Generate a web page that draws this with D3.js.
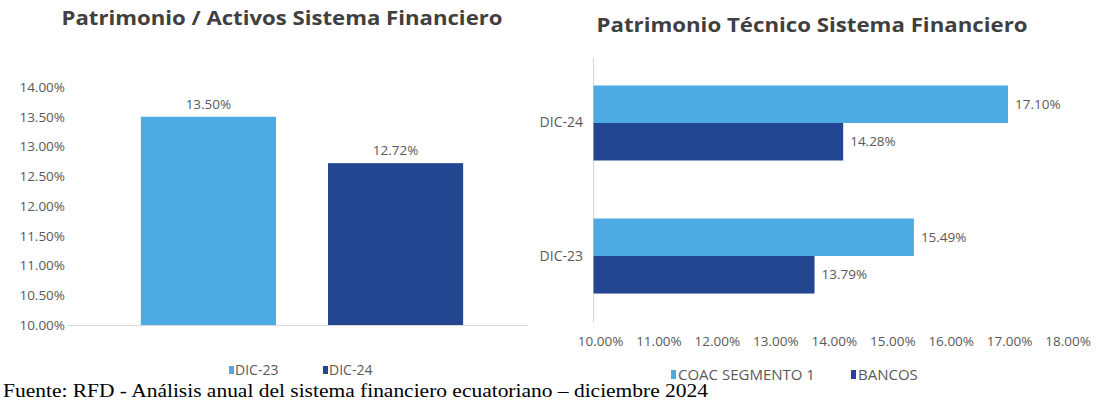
<!DOCTYPE html>
<html><head><meta charset="utf-8">
<script src="https://cdn.jsdelivr.net/npm/d3@7"></script>
<style>
html,body{margin:0;padding:0;background:#fff;}
</style></head>
<body><svg id="c" width="1099" height="402" style="font-family:'Open Sans',sans-serif"></svg>
<script>
// ---- data ----
const leftCategories = ["DIC-23", "DIC-24"];
const leftValues = [13.50, 12.72];
const leftTicks = [10, 10.5, 11, 11.5, 12, 12.5, 13, 13.5, 14];

const rightCategories = ["DIC-24", "DIC-23"];
const rightSeries = ["COAC SEGMENTO 1", "BANCOS"];
const coacValues = [17.10, 15.49];   // DIC-24, DIC-23
const bancosValues = [14.28, 13.79]; // DIC-24, DIC-23
const rightTicks = [10, 11, 12, 13, 14, 15, 16, 17, 18];

const colorLight = "#4DAAE2";
const colorDark = "#22468F";
const textGrey = "#595959";
const fmt = v => d3.format(".2f")(v) + "%";

const svg = d3.select("#c");

// ---- left chart ----
const L = svg.append("g");
L.append("text").attr("x", 282).attr("y", 25).attr("text-anchor", "middle")
  .attr("font-size", 19).attr("font-weight", 700).attr("fill", "#404040")
  .attr("textLength", 441).attr("lengthAdjust", "spacingAndGlyphs")
  .text("Patrimonio / Activos Sistema Financiero");

const ly = d3.scaleLinear().domain([10, 14]).range([325, 87]);
const lx = d3.scaleBand().domain(leftCategories).range([66, 538]).paddingInner(0.278).paddingOuter(0.4);

const lAxis = L.append("g").attr("transform", "translate(66,0)")
  .call(d3.axisLeft(ly).tickValues(leftTicks).tickSize(0).tickPadding(1).tickFormat(fmt));
lAxis.select(".domain").remove();
lAxis.attr("font-family", null);
lAxis.selectAll("text").attr("font-size", 13.5).attr("fill", textGrey);

L.append("line").attr("x1", 67).attr("x2", 528).attr("y1", ly(10) + 0.5).attr("y2", ly(10) + 0.5)
  .attr("stroke", "#d9d9d9").attr("stroke-width", 1);

const leftData = leftCategories.map((c, i) => ({c, v: leftValues[i]}));
L.selectAll("rect.bar").data(leftData).join("rect")
  .attr("x", d => lx(d.c)).attr("width", lx.bandwidth())
  .attr("y", d => ly(d.v)).attr("height", d => ly(10) - ly(d.v))
  .attr("fill", (d, i) => i === 0 ? colorLight : colorDark);
L.selectAll("text.val").data(leftData).join("text").attr("class", "val")
  .attr("x", d => lx(d.c) + lx.bandwidth() / 2).attr("y", d => ly(d.v) - 8)
  .attr("text-anchor", "middle").attr("font-size", 13.5).attr("fill", textGrey)
  .text(d => fmt(d.v));

// left legend
const lLeg = [{t: "DIC-23", c: colorLight, x: 229}, {t: "DIC-24", c: colorDark, x: 323}];
lLeg.forEach(d => {
  L.append("rect").attr("x", d.x).attr("y", 366).attr("width", 5).attr("height", 8).attr("fill", d.c);
  L.append("text").attr("x", d.x + 6).attr("y", 375).attr("font-size", 14).attr("fill", textGrey).text(d.t);
});

// ---- right chart ----
const R = svg.append("g");
R.append("text").attr("x", 812).attr("y", 32).attr("text-anchor", "middle")
  .attr("font-size", 19).attr("font-weight", 700).attr("fill", "#404040")
  .attr("textLength", 431).attr("lengthAdjust", "spacingAndGlyphs")
  .text("Patrimonio Técnico Sistema Financiero");

const rx = d3.scaleLinear().domain([10, 18]).range([593, 593 + 8 * 58.45]);
const ry = d3.scaleBand().domain(rightCategories).range([57, 322]).paddingInner(0.436).paddingOuter(0.214);
const ryIn = d3.scaleBand().domain(rightSeries).range([0, ry.bandwidth()]);

const rxAxis = R.append("g").attr("transform", "translate(7,342)")
  .call(d3.axisBottom(rx).tickValues(rightTicks).tickSize(0).tickPadding(0).tickFormat(fmt));
rxAxis.select(".domain").remove();
rxAxis.attr("font-family", null);
rxAxis.selectAll("text").attr("font-size", 13.5).attr("fill", textGrey).attr("dy", "0.32em").attr("y", 0);

const ryAxis = R.append("g").attr("transform", "translate(593,0)")
  .call(d3.axisLeft(ry).tickSize(0).tickPadding(10));
ryAxis.attr("font-family", null);
ryAxis.select(".domain").attr("stroke", "#d9d9d9");
ryAxis.selectAll("text").attr("font-size", 14).attr("fill", textGrey);

const rightData = [];
rightCategories.forEach((c, i) => {
  rightData.push({c, s: rightSeries[0], v: coacValues[i]});
  rightData.push({c, s: rightSeries[1], v: bancosValues[i]});
});
R.selectAll("rect.hb").data(rightData).join("rect").attr("class", "hb")
  .attr("x", rx(10) + 0.5).attr("width", d => rx(d.v) - rx(10) - 0.5)
  .attr("y", d => ry(d.c) + ryIn(d.s)).attr("height", ryIn.bandwidth())
  .attr("fill", d => d.s === rightSeries[0] ? colorLight : colorDark);
R.selectAll("text.hv").data(rightData).join("text").attr("class", "hv")
  .attr("x", d => rx(d.v) + 7).attr("y", d => ry(d.c) + ryIn(d.s) + ryIn.bandwidth() / 2)
  .attr("dy", "0.35em").attr("font-size", 13.5).attr("fill", textGrey)
  .text(d => fmt(d.v));

// right legend
const rLeg = [{t: "COAC SEGMENTO 1", c: colorLight, x: 671}, {t: "BANCOS", c: "#2E3F9E", x: 851}];
rLeg.forEach(d => {
  R.append("rect").attr("x", d.x).attr("y", 370).attr("width", 5).attr("height", 9).attr("fill", d.c);
  R.append("text").attr("x", d.x + 7).attr("y", 380).attr("font-size", 15).attr("fill", textGrey).text(d.t);
});

// footnote
svg.append("text").attr("x", 3).attr("y", 397)
  .style("font-family", "'Liberation Serif','Times New Roman',serif").attr("font-size", 19).attr("fill", "#000")
  .attr("textLength", 705).attr("lengthAdjust", "spacingAndGlyphs")
  .text("Fuente: RFD - Análisis anual del sistema financiero ecuatoriano – diciembre 2024");
</script></body></html>
